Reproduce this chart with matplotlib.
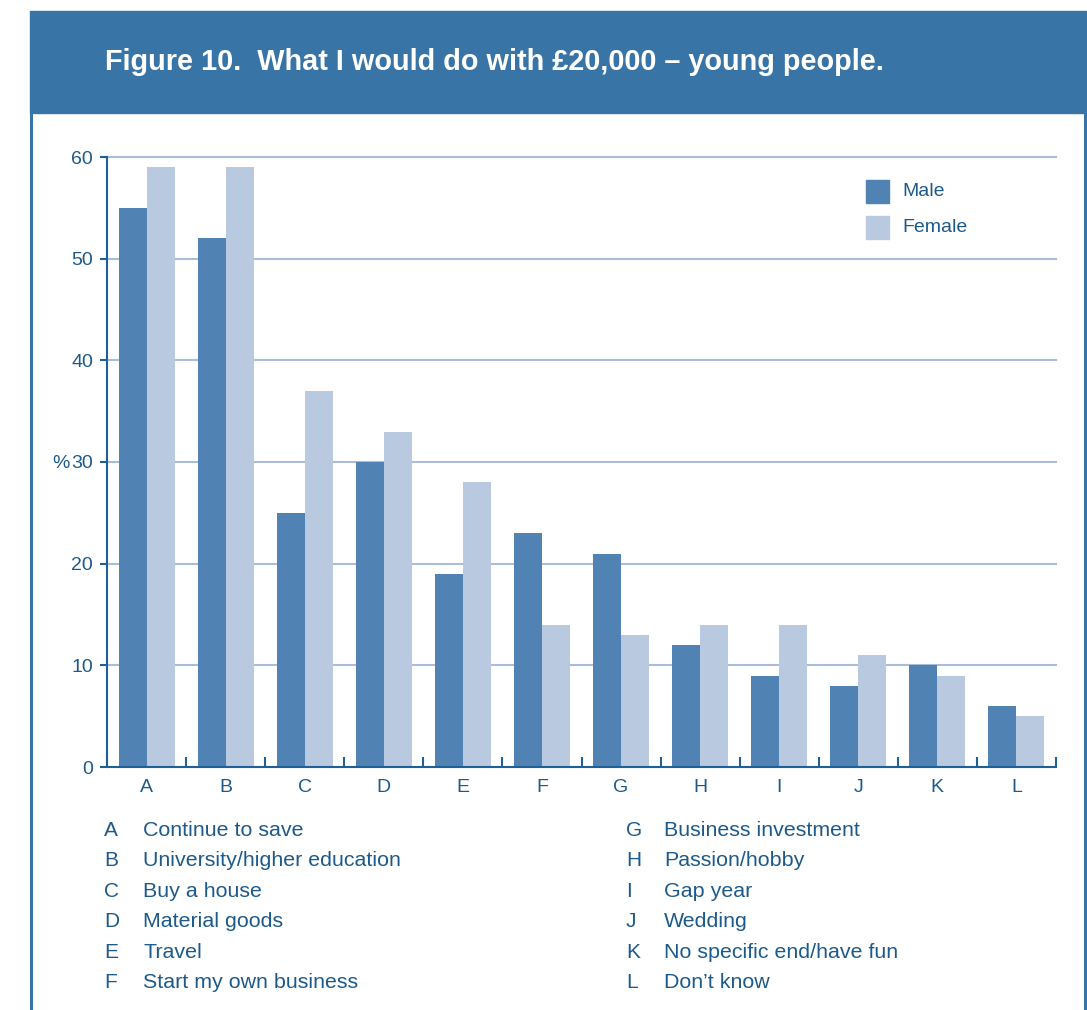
import matplotlib
matplotlib.use("Agg")
import matplotlib.pyplot as plt
import numpy as np
from matplotlib.patches import Rectangle
from matplotlib.lines import Line2D

categories = ["A", "B", "C", "D", "E", "F", "G", "H", "I", "J", "K", "L"]
male = [55, 52, 25, 30, 19, 23, 21, 12, 9, 8, 10, 6]
female = [59, 59, 37, 33, 28, 14, 13, 14, 14, 11, 9, 5]
descriptions = [
    "Continue to save", "University/higher education", "Buy a house",
    "Material goods", "Travel", "Start my own business",
    "Business investment", "Passion/hobby", "Gap year", "Wedding",
    "No specific end/have fun", "Don\u2019t know",
]
yticks = [0, 10, 20, 30, 40, 50, 60]
title = "Figure 10.  What I would do with \u00a320,000 \u2013 young people."

HEADER = "#3874A6"
MALE_C = "#5083B3"
FEMALE_C = "#B9C9E0"
GRID_C = "#A9BDD9"
AXIS_C = "#1E6199"
TEXT_C = "#1D5A8C"
SANS = ["Liberation Sans", "DejaVu Sans"]

W, H = 1087, 1010
fig = plt.figure(figsize=(W / 100, H / 100), dpi=100)


def fx(px):
    return px / W


def fy(py):
    return 1 - py / H


# header band and frame
fig.patches.append(Rectangle((fx(30), fy(113)), fx(1087 - 30), 102 / H,
                             transform=fig.transFigure, color=HEADER, zorder=0))
fig.lines.append(Line2D([fx(31), fx(31)], [fy(113), 0], transform=fig.transFigure,
                        color=HEADER, lw=2.2))
fig.lines.append(Line2D([fx(1085), fx(1085)], [fy(113), 0], transform=fig.transFigure,
                        color=HEADER, lw=2.2))
fig.text(fx(105), fy(62), title, color="white", fontsize=20.8, fontweight="bold",
         family=SANS, va="center", ha="left")

ax = fig.add_axes([fx(107), fy(767), fx(1056 - 107), (767 - 157) / H])
x = np.arange(len(categories))
bw = 0.354
ax.bar(x - bw / 2, male, bw, color=MALE_C, zorder=3)
ax.bar(x + bw / 2, female, bw, color=FEMALE_C, zorder=3)

ax.set_xlim(-0.5, len(categories) - 0.5)
ax.set_ylim(0, 60)
ax.set_yticks(yticks)
ax.set_yticklabels([str(v) for v in yticks], family=SANS, fontsize=14, color=TEXT_C)
ax.set_xticks(x)
ax.set_xticklabels(categories, family=SANS, fontsize=14, color=TEXT_C)
ax.set_xticks(np.arange(-0.5, len(categories)), minor=True)
ax.tick_params(axis="x", which="major", length=0, pad=9)
ax.tick_params(axis="x", which="minor", direction="in", length=7, width=1.5, color=AXIS_C)
ax.tick_params(axis="y", direction="out", length=5, width=1.5, color=AXIS_C, pad=5)

for v in yticks[1:]:
    ax.axhline(v, color=GRID_C, lw=1.5, zorder=1, clip_on=False)
for s in ["top", "right"]:
    ax.spines[s].set_visible(False)
for s in ["left", "bottom"]:
    ax.spines[s].set_color(AXIS_C)
    ax.spines[s].set_linewidth(1.5)
    ax.spines[s].set_zorder(4)

fig.text(fx(52), fy(463), "%", family=SANS, fontsize=14, color=TEXT_C,
         va="center", ha="left")

# legend
for i, (lab, col) in enumerate([("Male", MALE_C), ("Female", FEMALE_C)]):
    yc = 191 + i * 36
    fig.patches.append(Rectangle((fx(866), fy(yc + 12)), fx(23), 23 / H,
                                 transform=fig.transFigure, color=col))
    fig.text(fx(902), fy(yc), lab, family=SANS, fontsize=14, color=TEXT_C,
             va="center", ha="left")

# category key
for i, (c, d) in enumerate(zip(categories, descriptions)):
    col, row = divmod(i, 6)
    yc = 830 + row * 30.6
    lx = 104 if col == 0 else 626
    dx = 143 if col == 0 else 664
    fig.text(fx(lx), fy(yc), c, family=SANS, fontsize=15, color=TEXT_C,
             va="center", ha="left")
    fig.text(fx(dx), fy(yc), d, family=SANS, fontsize=15.4, color=TEXT_C,
             va="center", ha="left")

fig.savefig("out.png", dpi=100)
